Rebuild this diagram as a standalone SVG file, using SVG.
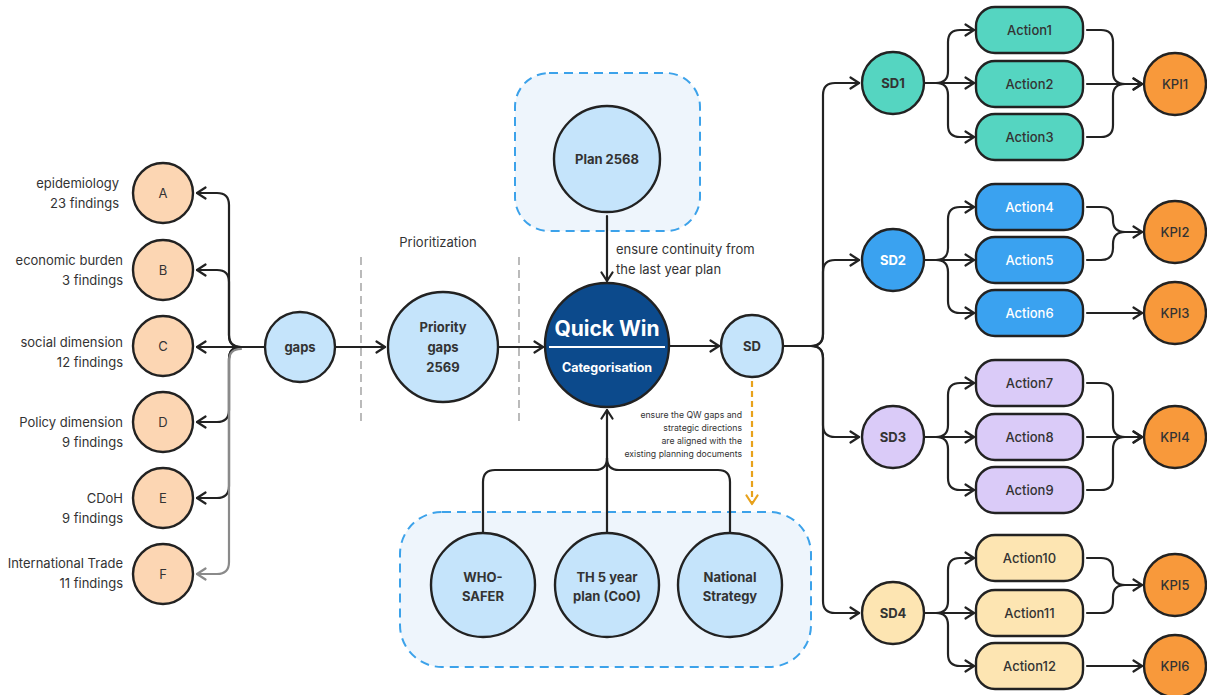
<svg xmlns="http://www.w3.org/2000/svg" width="1207" height="695" viewBox="0 0 1207 695">
<defs>
<style>
text{font-family:"Inter","Liberation Sans",sans-serif;fill:#333}
.lbl{font-size:13px;text-anchor:end}
.c{text-anchor:middle}
.b{font-weight:700;font-size:13px}
.m{font-weight:500;font-size:13px}
.stk{stroke:#222;stroke-width:2.4}
.peach{fill:#fcd6b3}
.lb{fill:#c5e4fb}
.teal{fill:#55d5c1}
.blue{fill:#3aa2f0}
.purp{fill:#dacbf8}
.yel{fill:#fde5b2}
.kpi{fill:#f8993b}
.con{fill:none;stroke:#222;stroke-width:2.2;stroke-linecap:round;stroke-linejoin:round}
.gray{stroke:#8a8a8a}
.act{font-size:13px;font-weight:500}
.wt{fill:#fff}
.note{font-size:8.7px;text-anchor:end}
</style>
<marker id="ah" viewBox="0 0 12 14" refX="10.5" refY="7" markerWidth="12" markerHeight="14" markerUnits="userSpaceOnUse" orient="auto"><path d="M2,1.5 L10.5,7 L2,12.5" fill="none" stroke="#222" stroke-width="2.2" stroke-linecap="round" stroke-linejoin="round"/></marker>
<marker id="ahg" viewBox="0 0 12 14" refX="10.5" refY="7" markerWidth="12" markerHeight="14" markerUnits="userSpaceOnUse" orient="auto"><path d="M2,1.5 L10.5,7 L2,12.5" fill="none" stroke="#8a8a8a" stroke-width="2.2" stroke-linecap="round" stroke-linejoin="round"/></marker>
<marker id="aho" viewBox="0 0 12 14" refX="10.5" refY="7" markerWidth="12" markerHeight="14" markerUnits="userSpaceOnUse" orient="auto"><path d="M2,1.5 L10.5,7 L2,12.5" fill="none" stroke="#e8a21c" stroke-width="2.2" stroke-linecap="round" stroke-linejoin="round"/></marker>
</defs>
<rect width="1207" height="695" fill="#fff"/>

<g id="plan-box"><rect x="515" y="73" width="185" height="158" rx="34" fill="#eef5fc" stroke="#3ca2ea" stroke-width="2" stroke-dasharray="9 6"/></g>
<g id="docs-box"><rect x="400" y="512" width="411" height="155" rx="42" fill="#eef5fc" stroke="#3ca2ea" stroke-width="2" stroke-dasharray="9 6"/></g>

<g id="dividers">
<line x1="361" y1="257" x2="361" y2="423" stroke="#aaa" stroke-width="1.6" stroke-dasharray="8 5"/>
<line x1="519" y1="257" x2="519" y2="423" stroke="#aaa" stroke-width="1.6" stroke-dasharray="8 5"/>
<text x="438" y="247" class="c" font-size="13">Prioritization</text>
</g>

<g id="connectors">
<path class="con" marker-end="url(#ah)" d="M265 347 H241 Q229 347 229 335 V205 Q229 193 217 193 H197"/>
<path class="con" marker-end="url(#ah)" d="M265 347 H241 Q229 347 229 335 V282 Q229 270 217 270 H197"/>
<path class="con" marker-end="url(#ah)" d="M265 347 H197"/>
<path class="con" marker-end="url(#ah)" d="M265 347 H241 Q229 347 229 359 V410 Q229 422 217 422 H197"/>
<path class="con" marker-end="url(#ah)" d="M265 347 H241 Q229 347 229 359 V486 Q229 498 217 498 H197"/>
<path class="con gray" marker-end="url(#ahg)" d="M241 349 Q229 349 229 361 V562 Q229 574 217 574 H197"/>
<path class="con" marker-end="url(#ah)" d="M336 347 H385"/>
<path class="con" marker-end="url(#ah)" d="M498 347 H543"/>
<path class="con" marker-end="url(#ah)" d="M670 346 H719"/>
<path class="con" marker-end="url(#ah)" d="M607 216 V281"/>
<path class="con" marker-end="url(#ah)" d="M607 533 V410"/>
<path class="con" d="M483 533 V482 Q483 470 495 470 H595 Q607 470 607 458"/>
<path class="con" d="M730 533 V482 Q730 470 718 470 H619 Q607 470 607 458"/>
<path fill="none" stroke="#e8a21c" stroke-width="2.2" stroke-dasharray="6 4" marker-end="url(#aho)" d="M752 381 V504"/>
<path class="con" marker-end="url(#ah)" d="M783 346 H811 Q823 346 823 334 V95 Q823 83 835 83 H859"/>
<path class="con" marker-end="url(#ah)" d="M783 346 H811 Q823 346 823 334 V272 Q823 260 835 260 H859"/>
<path class="con" marker-end="url(#ah)" d="M783 346 H811 Q823 346 823 358 V425 Q823 437 835 437 H859"/>
<path class="con" marker-end="url(#ah)" d="M783 346 H811 Q823 346 823 358 V601 Q823 613 835 613 H859"/>
<path class="con" marker-end="url(#ah)" d="M926 83 H936 Q948 83 948 71 V42 Q948 30 960 30 H974"/>
<path class="con" marker-end="url(#ah)" d="M926 83 H974"/>
<path class="con" marker-end="url(#ah)" d="M926 83 H936 Q948 83 948 95 V125 Q948 137 960 137 H974"/>
<path class="con" marker-end="url(#ah)" d="M926 260 H936 Q948 260 948 248 V219 Q948 207 960 207 H974"/>
<path class="con" marker-end="url(#ah)" d="M926 260 H974"/>
<path class="con" marker-end="url(#ah)" d="M926 260 H936 Q948 260 948 272 V301 Q948 313 960 313 H974"/>
<path class="con" marker-end="url(#ah)" d="M926 437 H936 Q948 437 948 425 V395 Q948 383 960 383 H974"/>
<path class="con" marker-end="url(#ah)" d="M926 437 H974"/>
<path class="con" marker-end="url(#ah)" d="M926 437 H936 Q948 437 948 449 V478 Q948 490 960 490 H974"/>
<path class="con" marker-end="url(#ah)" d="M926 613 H936 Q948 613 948 601 V570 Q948 558 960 558 H974"/>
<path class="con" marker-end="url(#ah)" d="M926 613 H974"/>
<path class="con" marker-end="url(#ah)" d="M926 613 H936 Q948 613 948 625 V654 Q948 666 960 666 H974"/>
<path class="con" marker-end="url(#ah)" d="M1087 30 H1101 Q1113 30 1113 42 V72 Q1113 84 1125 84 H1142"/>
<path class="con" marker-end="url(#ah)" d="M1087 84 H1142"/>
<path class="con" d="M1087 137 H1101 Q1113 137 1113 125 V96 Q1113 84 1125 84"/>
<path class="con" marker-end="url(#ah)" d="M1087 207 H1101 Q1113 207 1113 219 V220 Q1113 232 1125 232 H1142"/>
<path class="con" d="M1087 260 H1101 Q1113 260 1113 248 V244 Q1113 232 1125 232"/>
<path class="con" marker-end="url(#ah)" d="M1087 313 H1142"/>
<path class="con" marker-end="url(#ah)" d="M1087 383 H1101 Q1113 383 1113 395 V425 Q1113 437 1125 437 H1142"/>
<path class="con" marker-end="url(#ah)" d="M1087 437 H1142"/>
<path class="con" d="M1087 490 H1101 Q1113 490 1113 478 V449 Q1113 437 1125 437"/>
<path class="con" marker-end="url(#ah)" d="M1087 558 H1101 Q1113 558 1113 570 V573 Q1113 585 1125 585 H1142"/>
<path class="con" d="M1087 613 H1101 Q1113 613 1113 601 V597 Q1113 585 1125 585"/>
<path class="con" marker-end="url(#ah)" d="M1087 666 H1142"/>
</g>

<g id="labels">
<text x="616" y="254" font-size="13">ensure continuity from</text>
<text x="616" y="274" font-size="13">the last year plan</text>
<text x="742" y="418" class="note">ensure the QW gaps and</text>
<text x="742" y="431" class="note">strategic directions</text>
<text x="742" y="444" class="note">are aligned with the</text>
<text x="742" y="457" class="note">existing planning documents</text>
</g>

<g id="A"><circle cx="163" cy="193" r="30" class="peach stk"/><text x="163" y="198" class="c" font-size="13">A</text><text x="119" y="188" class="lbl">epidemiology</text><text x="119" y="208" class="lbl">23 findings</text></g>
<g id="B"><circle cx="163" cy="270" r="30" class="peach stk"/><text x="163" y="275" class="c" font-size="13">B</text><text x="123" y="265" class="lbl">economic burden</text><text x="123" y="285" class="lbl">3 findings</text></g>
<g id="C"><circle cx="163" cy="346" r="30" class="peach stk"/><text x="163" y="351" class="c" font-size="13">C</text><text x="123" y="347" class="lbl">social dimension</text><text x="123" y="367" class="lbl">12 findings</text></g>
<g id="D"><circle cx="163" cy="422" r="30" class="peach stk"/><text x="163" y="427" class="c" font-size="13">D</text><text x="123" y="427" class="lbl">Policy dimension</text><text x="123" y="447" class="lbl">9 findings</text></g>
<g id="E"><circle cx="163" cy="498" r="30" class="peach stk"/><text x="163" y="503" class="c" font-size="13">E</text><text x="123" y="503" class="lbl">CDoH</text><text x="123" y="523" class="lbl">9 findings</text></g>
<g id="F"><circle cx="163" cy="574" r="30" class="peach stk"/><text x="163" y="579" class="c" font-size="13">F</text><text x="123" y="568" class="lbl">International Trade</text><text x="123" y="588" class="lbl">11 findings</text></g>

<g id="gaps"><circle cx="300" cy="347" r="35" class="lb stk"/><text x="300" y="352" class="c b">gaps</text></g>
<g id="priority"><circle cx="443" cy="347" r="55" class="lb stk"/><text x="443" y="332" class="c b">Priority</text><text x="443" y="352" class="c b">gaps</text><text x="443" y="372" class="c b">2569</text></g>
<g id="plan2568"><circle cx="607" cy="159" r="53" class="lb stk"/><text x="607" y="164" class="c b">Plan 2568</text></g>
<g id="quickwin"><circle cx="607" cy="345" r="62" fill="#0c4a8c" class="stk"/><text x="607" y="336" class="c" font-size="21" font-weight="700" style="fill:#fff">Quick Win</text><line x1="549" y1="347" x2="665" y2="347" stroke="#fff" stroke-width="2"/><text x="607" y="372" class="c" font-size="12.5" font-weight="700" style="fill:#fff">Categorisation</text></g>
<g id="SD"><circle cx="752" cy="346" r="31" class="lb stk"/><text x="752" y="351" class="c b">SD</text></g>

<g id="who"><circle cx="483" cy="585" r="52" class="lb stk"/><text x="483" y="582" class="c b">WHO-</text><text x="483" y="601" class="c b">SAFER</text></g>
<g id="th5"><circle cx="607" cy="585" r="52" class="lb stk"/><text x="607" y="582" class="c b">TH 5 year</text><text x="607" y="601" class="c b">plan (CoO)</text></g>
<g id="national"><circle cx="730" cy="585" r="52" class="lb stk"/><text x="730" y="582" class="c b">National</text><text x="730" y="601" class="c b">Strategy</text></g>

<g id="SD1"><circle cx="893" cy="83" r="31" class="teal stk"/><text x="893" y="88" class="c b">SD1</text></g>
<g id="SD2"><circle cx="893" cy="260" r="31" class="blue stk"/><text x="893" y="265" class="c b wt">SD2</text></g>
<g id="SD3"><circle cx="893" cy="437" r="31" class="purp stk"/><text x="893" y="442" class="c b">SD3</text></g>
<g id="SD4"><circle cx="893" cy="613" r="31" class="yel stk"/><text x="893" y="618" class="c b">SD4</text></g>

<g id="Action1"><rect x="976" y="7" width="107" height="46" rx="19" class="teal stk"/><text x="1029.5" y="35" class="c act">Action1</text></g>
<g id="Action2"><rect x="976" y="61" width="107" height="46" rx="19" class="teal stk"/><text x="1029.5" y="89" class="c act">Action2</text></g>
<g id="Action3"><rect x="976" y="114" width="107" height="46" rx="19" class="teal stk"/><text x="1029.5" y="142" class="c act">Action3</text></g>
<g id="Action4"><rect x="976" y="184" width="107" height="46" rx="19" class="blue stk"/><text x="1029.5" y="212" class="c act wt">Action4</text></g>
<g id="Action5"><rect x="976" y="237" width="107" height="46" rx="19" class="blue stk"/><text x="1029.5" y="265" class="c act wt">Action5</text></g>
<g id="Action6"><rect x="976" y="290" width="107" height="46" rx="19" class="blue stk"/><text x="1029.5" y="318" class="c act wt">Action6</text></g>
<g id="Action7"><rect x="976" y="360" width="107" height="46" rx="19" class="purp stk"/><text x="1029.5" y="388" class="c act">Action7</text></g>
<g id="Action8"><rect x="976" y="414" width="107" height="46" rx="19" class="purp stk"/><text x="1029.5" y="442" class="c act">Action8</text></g>
<g id="Action9"><rect x="976" y="467" width="107" height="46" rx="19" class="purp stk"/><text x="1029.5" y="495" class="c act">Action9</text></g>
<g id="Action10"><rect x="976" y="535" width="107" height="46" rx="19" class="yel stk"/><text x="1029.5" y="563" class="c act">Action10</text></g>
<g id="Action11"><rect x="976" y="590" width="107" height="46" rx="19" class="yel stk"/><text x="1029.5" y="618" class="c act">Action11</text></g>
<g id="Action12"><rect x="976" y="643" width="107" height="46" rx="19" class="yel stk"/><text x="1029.5" y="671" class="c act">Action12</text></g>

<g id="KPI1"><circle cx="1175" cy="84" r="31" class="kpi stk"/><text x="1175" y="89" class="c m">KPI1</text></g>
<g id="KPI2"><circle cx="1175" cy="232" r="31" class="kpi stk"/><text x="1175" y="237" class="c m">KPI2</text></g>
<g id="KPI3"><circle cx="1175" cy="313" r="31" class="kpi stk"/><text x="1175" y="318" class="c m">KPI3</text></g>
<g id="KPI4"><circle cx="1175" cy="437" r="31" class="kpi stk"/><text x="1175" y="442" class="c m">KPI4</text></g>
<g id="KPI5"><circle cx="1175" cy="585" r="31" class="kpi stk"/><text x="1175" y="590" class="c m">KPI5</text></g>
<g id="KPI6"><circle cx="1175" cy="666" r="31" class="kpi stk"/><text x="1175" y="671" class="c m">KPI6</text></g>
</svg>
